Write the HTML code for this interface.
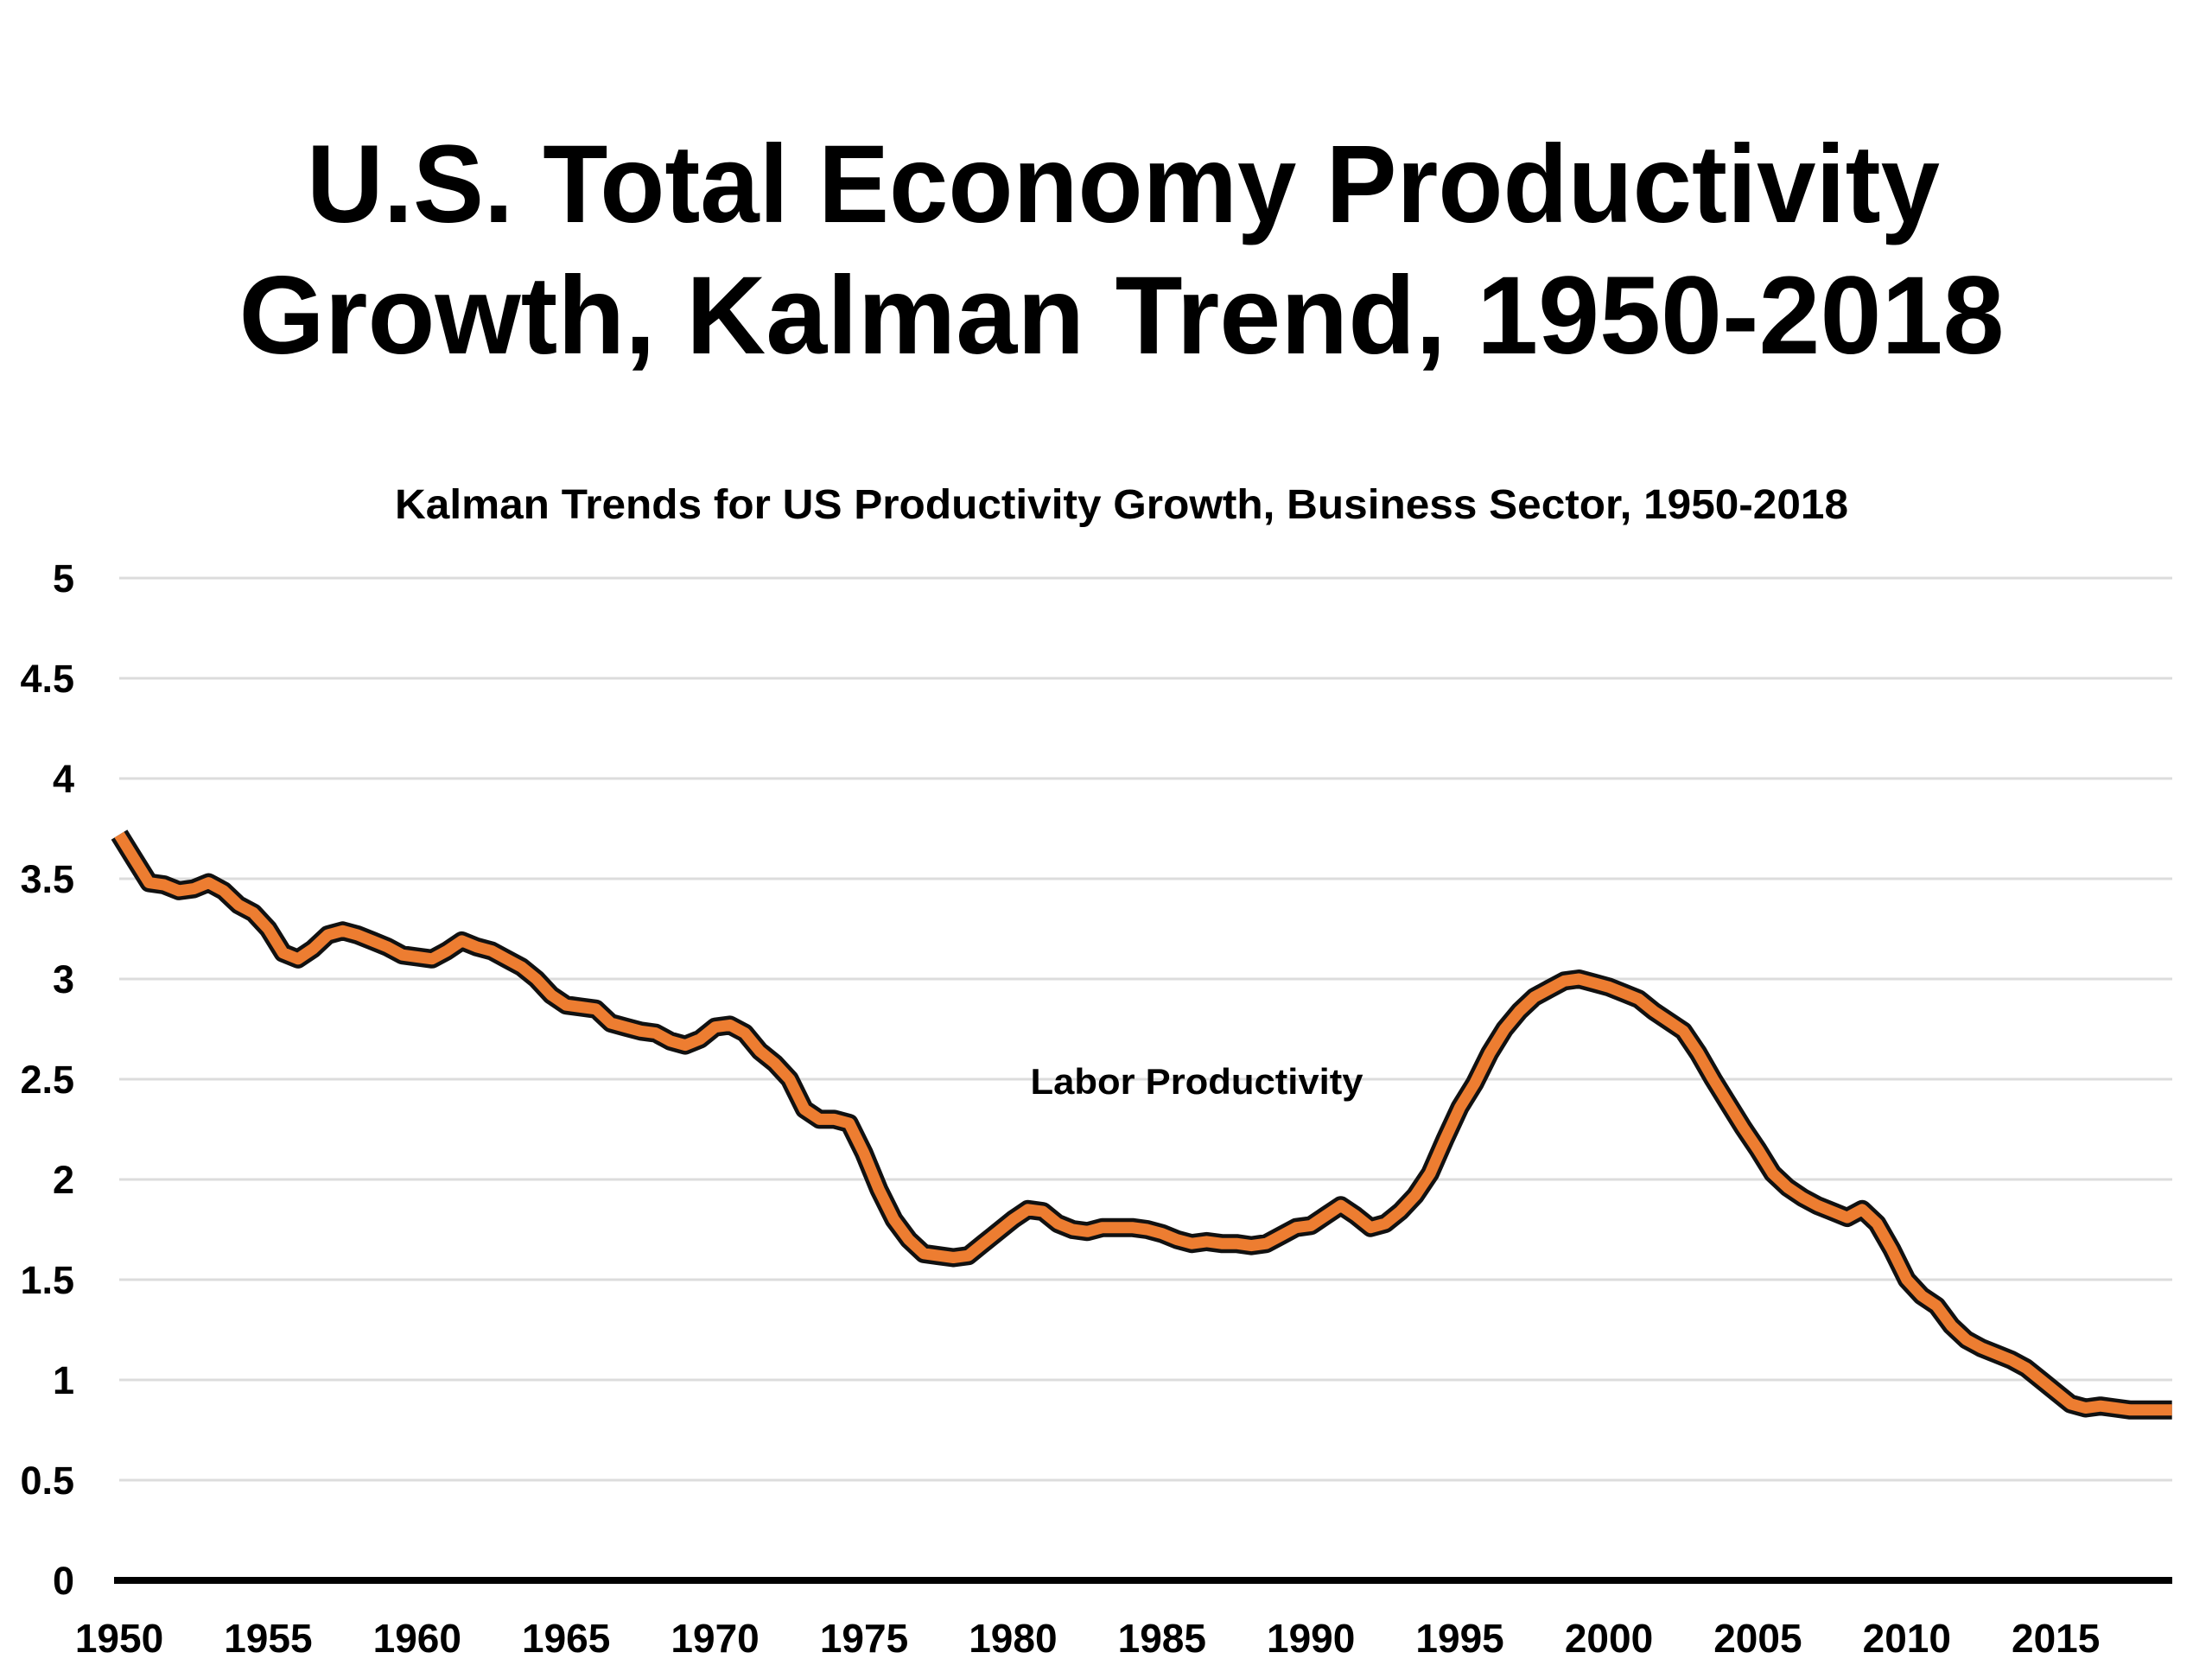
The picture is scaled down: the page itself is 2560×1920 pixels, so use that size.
<!DOCTYPE html>
<html><head><meta charset="utf-8"><style>
html,body{margin:0;padding:0;background:#fff;}
svg{display:block;}
text{font-family:"Liberation Sans",sans-serif;font-weight:bold;fill:#000;}
</style></head><body>
<svg id="chart" width="2560" height="1920" viewBox="0 0 2560 1920" xmlns="http://www.w3.org/2000/svg">
<text x="1300" y="257" font-size="128" text-anchor="middle" textLength="1890" lengthAdjust="spacingAndGlyphs">U.S. Total Economy Productivity</text>
<text x="1298" y="409" font-size="128" text-anchor="middle" textLength="2043" lengthAdjust="spacingAndGlyphs">Growth, Kalman Trend, 1950-2018</text>
<text x="1298" y="600" font-size="48" text-anchor="middle" textLength="1682" lengthAdjust="spacingAndGlyphs">Kalman Trends for US Productivity Growth, Business Sector, 1950-2018</text>
<g id="grid"></g>
<g id="yticks"></g>
<g id="xticks"></g>
<g id="series"></g>
<text x="1385" y="1266" font-size="42" text-anchor="middle" textLength="385" lengthAdjust="spacingAndGlyphs">Labor Productivity</text>
</svg>
<script>
const years=[1950,1950.5,1951,1951.5,1952,1952.5,1953,1953.5,1954,1954.5,1955,1955.5,1956,1956.5,1957,1957.5,1958,1958.5,1959,1959.5,1960,1960.5,1961,1961.5,1962,1962.5,1963,1963.5,1964,1964.5,1965,1965.5,1966,1966.5,1967,1967.5,1968,1968.5,1969,1969.5,1970,1970.5,1971,1971.5,1972,1972.5,1973,1973.5,1974,1974.5,1975,1975.5,1976,1976.5,1977,1977.5,1978,1978.5,1979,1979.5,1980,1980.5,1981,1981.5,1982,1982.5,1983,1983.5,1984,1984.5,1985,1985.5,1986,1986.5,1987,1987.5,1988,1988.5,1989,1989.5,1990,1990.5,1991,1991.5,1992,1992.5,1993,1993.5,1994,1994.5,1995,1995.5,1996,1996.5,1997,1997.5,1998,1998.5,1999,1999.5,2000,2000.5,2001,2001.5,2002,2002.5,2003,2003.5,2004,2004.5,2005,2005.5,2006,2006.5,2007,2007.5,2008,2008.5,2009,2009.5,2010,2010.5,2011,2011.5,2012,2012.5,2013,2013.5,2014,2014.5,2015,2015.5,2016,2016.5,2017,2017.5,2018,2018.9];
const laborProductivity=[3.72,3.6,3.48,3.47,3.44,3.45,3.48,3.44,3.37,3.33,3.25,3.13,3.1,3.15,3.22,3.24,3.22,3.19,3.16,3.12,3.11,3.1,3.14,3.19,3.16,3.14,3.1,3.06,3.0,2.92,2.87,2.86,2.85,2.78,2.76,2.74,2.73,2.69,2.67,2.7,2.76,2.77,2.73,2.64,2.58,2.5,2.35,2.3,2.3,2.28,2.13,1.95,1.8,1.7,1.63,1.62,1.61,1.62,1.68,1.74,1.8,1.85,1.84,1.78,1.75,1.74,1.76,1.76,1.76,1.75,1.73,1.7,1.68,1.69,1.68,1.68,1.67,1.68,1.72,1.76,1.77,1.82,1.87,1.82,1.76,1.78,1.84,1.92,2.03,2.2,2.36,2.48,2.63,2.75,2.84,2.91,2.95,2.99,3.0,2.98,2.96,2.93,2.9,2.84,2.79,2.74,2.63,2.5,2.38,2.26,2.15,2.03,1.96,1.91,1.87,1.84,1.81,1.85,1.78,1.65,1.5,1.42,1.37,1.27,1.2,1.16,1.13,1.1,1.06,1.0,0.94,0.88,0.86,0.87,0.86,0.85,0.85,0.85];
const yTickValues=[0,0.5,1,1.5,2,2.5,3,3.5,4,4.5,5];
const yTickLabels=["0","0.5","1","1.5","2","2.5","3","3.5","4","4.5","5"];
const xTickYears=[1950,1955,1960,1965,1970,1975,1980,1985,1990,1995,2000,2005,2010,2015];
const xTickLabels=["1950","1955","1960","1965","1970","1975","1980","1985","1990","1995","2000","2005","2010","2015"];

const NS="http://www.w3.org/2000/svg";
const X0=138,XPER=34.48,Y0=1829,YPER=232,XEND=2514;
function xs(yr){return X0+(yr-1950)*XPER;}
function ys(v){return Y0-v*YPER;}
function mk(tag,attrs,parent){const e=document.createElementNS(NS,tag);for(const k in attrs)e.setAttribute(k,attrs[k]);parent.appendChild(e);return e;}
const grid=document.getElementById('grid'),yt=document.getElementById('yticks'),xt=document.getElementById('xticks'),ser=document.getElementById('series');
yTickValues.forEach((v,i)=>{
  if(v>0){const g=mk('line',{x1:X0,x2:XEND,y1:ys(v),y2:ys(v),stroke:'#dcdcdc','stroke-width':3},grid);
  
  }
  const t=mk('text',{x:86,y:ys(v)+16,'font-size':45,'text-anchor':'end'},yt);
  t.textContent=yTickLabels[i];
  
  
});
const ax=mk('line',{x1:X0-6,x2:XEND,y1:Y0,y2:Y0,stroke:'#000','stroke-width':8},grid);


xTickYears.forEach((yr,i)=>{
  const t=mk('text',{x:xs(yr),y:1912,'font-size':46,'text-anchor':'middle'},xt);
  t.textContent=xTickLabels[i];
  
  
});
const d=years.map((yr,i)=>(i?'L':'M')+xs(yr).toFixed(1)+','+ys(laborProductivity[i]).toFixed(1)).join(' ');
const outline=mk('path',{d:d,fill:'none',stroke:'#111','stroke-width':22,'stroke-linejoin':'round','stroke-linecap':'butt'},ser);


const line=mk('path',{d:d,fill:'none',stroke:'#ed7d31','stroke-width':13,'stroke-linejoin':'round','stroke-linecap':'butt'},ser);


</script>
</body></html>
